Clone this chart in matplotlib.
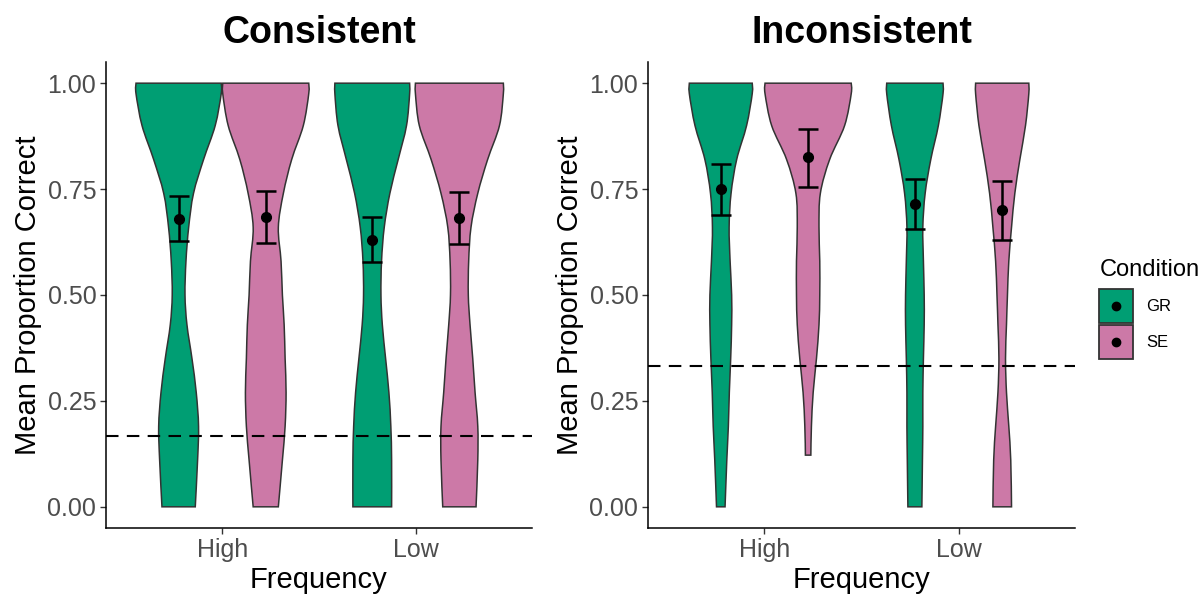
import matplotlib.pyplot as plt
import numpy as np
from matplotlib.patches import Patch, PathPatch
from matplotlib.lines import Line2D
from matplotlib.path import Path
from matplotlib.legend_handler import HandlerLine2D

plt.rcParams['font.family'] = ['Liberation Sans', 'DejaVu Sans']

panels = ['Consistent', 'Inconsistent']
frequencies = ['High', 'Low']
conditions = ['GR', 'SE']
colors = ['#009E73', '#CC79A7']
chance = [1 / 6, 1 / 3]

# means and CI bounds, indexed [panel][frequency][condition]
means = [[[0.680, 0.685], [0.630, 0.681]],
         [[0.750, 0.825], [0.715, 0.700]]]
ci_low = [[[0.627, 0.622], [0.577, 0.620]],
          [[0.690, 0.755], [0.655, 0.630]]]
ci_high = [[[0.733, 0.745], [0.683, 0.742]],
           [[0.810, 0.893], [0.773, 0.770]]]

# violin outlines: half-widths (x units) at y levels
y_grid = [0.00, 0.11, 0.19, 0.27, 0.35, 0.43, 0.50, 0.58, 0.66, 0.74, 0.82, 0.90, 0.975, 1.00]
cons_gr_high = [0.086, 0.098, 0.103, 0.091, 0.069, 0.043, 0.033, 0.038, 0.052, 0.077, 0.129, 0.189, 0.220, 0.220]
cons_se_high = [0.065, 0.086, 0.100, 0.105, 0.100, 0.095, 0.086, 0.079, 0.065, 0.091, 0.134, 0.194, 0.222, 0.222]
cons_gr_low = [0.100, 0.100, 0.096, 0.086, 0.069, 0.052, 0.045, 0.048, 0.062, 0.091, 0.134, 0.177, 0.193, 0.193]
cons_se_low = [0.086, 0.095, 0.095, 0.081, 0.069, 0.055, 0.046, 0.048, 0.060, 0.095, 0.146, 0.207, 0.227, 0.227]
inc_gr_high = [0.022, 0.031, 0.039, 0.044, 0.051, 0.056, 0.056, 0.048, 0.043, 0.053, 0.082, 0.133, 0.162, 0.162]
inc_se_high_y = [0.122, 0.19, 0.27, 0.35, 0.43, 0.50, 0.58, 0.66, 0.74, 0.82, 0.90, 0.975, 1.00]
inc_se_high = [0.014, 0.017, 0.026, 0.043, 0.056, 0.060, 0.060, 0.056, 0.063, 0.111, 0.188, 0.222, 0.222]
inc_gr_low = [0.036, 0.039, 0.041, 0.041, 0.044, 0.048, 0.048, 0.044, 0.041, 0.053, 0.082, 0.121, 0.145, 0.145]
inc_se_low = [0.048, 0.044, 0.034, 0.022, 0.017, 0.022, 0.027, 0.034, 0.048, 0.065, 0.091, 0.120, 0.137, 0.137]

violins = [
    [[(y_grid, cons_gr_high), (y_grid, cons_se_high)],
     [(y_grid, cons_gr_low), (y_grid, cons_se_low)]],
    [[(y_grid, inc_gr_high), (inc_se_high_y, inc_se_high)],
     [(y_grid, inc_gr_low), (y_grid, inc_se_low)]],
]


def smooth_side(pts):
    # bezier segments through the outline points (catmull-rom style)
    verts, codes = [], []
    n = len(pts)
    for i in range(n - 1):
        p0, p1 = pts[max(i - 1, 0)], pts[i]
        p2, p3 = pts[i + 1], pts[min(i + 2, n - 1)]
        verts += [p1 + (p2 - p0) / 6, p2 - (p3 - p1) / 6, p2]
        codes += [Path.CURVE4] * 3
    return verts, codes


def violin_path(xc, y, w):
    y = np.asarray(y)
    w = np.asarray(w)
    right = np.column_stack([xc + w, y])
    left = np.column_stack([xc - w, y])[::-1]
    verts = [left[-1], right[0]]
    codes = [Path.MOVETO, Path.LINETO]
    v, c = smooth_side(right)
    verts += v
    codes += c
    verts.append(left[0])
    codes.append(Path.LINETO)
    v, c = smooth_side(left)
    verts += v
    codes += c
    verts.append(left[-1])
    codes.append(Path.CLOSEPOLY)
    return Path(verts, codes)


class CenteredMarker(HandlerLine2D):
    # put the legend dot in the middle of the key box
    def create_artists(self, legend, orig_handle, xdescent, ydescent,
                       width, height, fontsize, trans):
        artists = super().create_artists(legend, orig_handle, xdescent, ydescent,
                                         width, height, fontsize, trans)
        for a in artists:
            a.set_ydata(np.full(len(a.get_xdata()), height / 2 - ydescent))
        return artists


fig = plt.figure(figsize=(12.04, 5.95), dpi=100)
ax_pos = [[106 / 1204, 67 / 595, 426 / 1204, 466 / 595],
          [648 / 1204, 67 / 595, 427 / 1204, 466 / 595]]
dodge = 0.225

for p, title in enumerate(panels):
    ax = fig.add_axes(ax_pos[p])
    for f in range(len(frequencies)):
        for c in range(len(conditions)):
            xc = f + 1 + (c - 0.5) * 2 * dodge
            y, w = violins[p][f][c]
            ax.add_patch(PathPatch(violin_path(xc, y, w), facecolor=colors[c],
                                   edgecolor='#333333', linewidth=1.1, zorder=2))
            m = means[p][f][c]
            ax.errorbar([xc], [m], yerr=[[m - ci_low[p][f][c]], [ci_high[p][f][c] - m]],
                        fmt='o', color='black', markersize=7, elinewidth=1.8,
                        capsize=7, capthick=1.8, zorder=4)
    ax.axhline(chance[p], color='black', linewidth=1.5, linestyle=(0, (6, 4)), zorder=3)

    ax.set_xlim(0.4, 2.6)
    ax.set_ylim(-0.05, 1.05)
    ax.set_xticks([1, 2])
    ax.set_xticklabels(frequencies)
    ax.set_yticks([0, 0.25, 0.5, 0.75, 1.0])
    ax.set_yticklabels(['0.00', '0.25', '0.50', '0.75', '1.00'])
    ax.tick_params(labelsize=18, labelcolor='#4D4D4D', color='#333333',
                   length=4, width=1.0, pad=3)
    for s in ['top', 'right']:
        ax.spines[s].set_visible(False)
    for s in ['left', 'bottom']:
        ax.spines[s].set_linewidth(1.1)
        ax.spines[s].set_color('black')
    ax.set_xlabel('Frequency', fontsize=21, labelpad=3)
    ax.set_ylabel('Mean Proportion Correct', fontsize=21, labelpad=4)
    ax.set_title(title, fontsize=27, fontweight='bold', pad=14)

handles = [(Patch(facecolor=colors[c], edgecolor='#333333', linewidth=1.3),
            Line2D([], [], marker='o', color='black', linestyle='none', markersize=6))
           for c in range(len(conditions))]
leg = fig.legend(handles, conditions, loc='upper left',
                 bbox_to_anchor=(1086 / 1204, 1 - 246 / 595),
                 title='Condition', title_fontsize=17, fontsize=12,
                 frameon=False, handlelength=2.0, handleheight=2.75,
                 labelspacing=0.12, handletextpad=0.8, borderpad=0.3,
                 handler_map={Line2D: CenteredMarker()})
leg._legend_box.align = 'left'
leg._legend_box.sep = 5.5

fig.savefig('out.png', dpi=100)
